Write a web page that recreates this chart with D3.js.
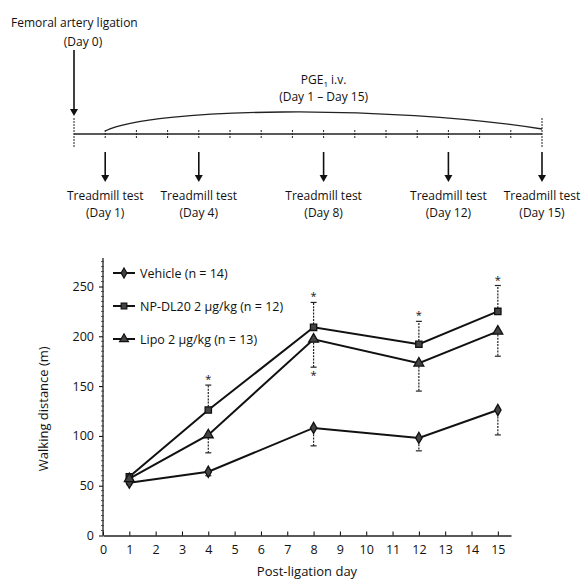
<!DOCTYPE html>
<html>
<head>
<meta charset="utf-8">
<script src="https://cdn.jsdelivr.net/npm/d3@7"></script>
<style>
  body { margin: 0; background: #fff; }
  svg { font-family: "Open Sans", "Noto Sans", sans-serif; }
  text { fill: #111; }
</style>
</head>
<body>
<svg id="chart" width="583" height="580"></svg>
<script>
// ---- data ----
const days = [1, 4, 8, 12, 15];
const vehicle = [53, 64, 108, 98, 126];
const vehicleErr = [2, 4, 18, 13, 25];        // drawn downward
const npDl20 = [59, 126, 209, 192, 225];
const npDl20Err = [3, 25, 25, 23, 26];        // drawn upward
const lipo = [57, 101, 197, 173, 205];
const lipoErr = [2, 18, 28, 28, 25];          // drawn downward
const npStarDays = [4, 8, 12, 15];
const lipoStarDays = [8];

const seriesNames = ["Vehicle (n = 14)", "NP-DL20 2 μg/kg (n = 12)", "Lipo 2 μg/kg (n = 13)"];
const yTicks = [0, 50, 100, 150, 200, 250];
const xTicks = d3.range(0, 16);

// timeline
const testDays = [1, 4, 8, 12, 15];
const timelineTicks = d3.range(0, 16);

const svg = d3.select("#chart");

// ---------------------------
// Timeline (top panel)
// ---------------------------
const tx = d3.scaleLinear().domain([0, 15]).range([74, 542]);
const lineY = 134;
const tl = svg.append("g");

tl.append("line")
  .attr("x1", tx(0)).attr("x2", tx(15))
  .attr("y1", lineY).attr("y2", lineY)
  .attr("stroke", "#222").attr("stroke-width", 1.3);

tl.selectAll(".tt")
  .data(timelineTicks)
  .join("line")
  .attr("x1", d => tx(d)).attr("x2", d => tx(d))
  .attr("y1", d => (d === 0 || d === 15) ? lineY - 16 : lineY - 4)
  .attr("y2", d => (d === 0 || d === 15) ? lineY + 14 : lineY + 4)
  .attr("stroke", "#222").attr("stroke-width", 1)
  .attr("stroke-dasharray", "2,1");

// PGE1 arc
const arcPath = d3.path();
arcPath.moveTo(tx(1), lineY - 3);
arcPath.bezierCurveTo(tx(2.5), lineY - 26, tx(10), lineY - 30, tx(15), lineY - 5);
tl.append("path")
  .attr("d", arcPath.toString())
  .attr("fill", "none").attr("stroke", "#222").attr("stroke-width", 1.3);

const pge = tl.append("text")
  .attr("x", tx(8)).attr("y", 84)
  .attr("text-anchor", "middle").attr("font-size", 12);
pge.append("tspan").text("PGE");
pge.append("tspan").attr("font-size", 8).attr("dy", 3).text("1");
pge.append("tspan").attr("dy", -3).text(" i.v.");
tl.append("text")
  .attr("x", tx(8)).attr("y", 101)
  .attr("text-anchor", "middle").attr("font-size", 12)
  .text("(Day 1 \u2013 Day 15)");

// arrows
function arrow(g, x, y1, y2) {
  g.append("line")
    .attr("x1", x).attr("x2", x).attr("y1", y1).attr("y2", y2 - 6)
    .attr("stroke", "#111").attr("stroke-width", 1.6);
  g.append("path")
    .attr("d", `M${x - 4},${y2 - 7} L${x + 4},${y2 - 7} L${x},${y2} Z`)
    .attr("fill", "#111");
}

tl.append("text")
  .attr("x", 11).attr("y", 27)
  .attr("font-size", 12)
  .text("Femoral artery ligation");
tl.append("text")
  .attr("x", 83).attr("y", 46)
  .attr("text-anchor", "middle").attr("font-size", 12)
  .text("(Day 0)");
arrow(tl, tx(0), 50, 116);

testDays.forEach(d => {
  arrow(tl, tx(d), 152, 182);
  tl.append("text")
    .attr("x", tx(d)).attr("y", 200)
    .attr("text-anchor", "middle").attr("font-size", 12)
    .text("Treadmill test");
  tl.append("text")
    .attr("x", tx(d)).attr("y", 217)
    .attr("text-anchor", "middle").attr("font-size", 12)
    .text(`(Day ${d})`);
});

// ---------------------------
// Line chart (bottom panel)
// ---------------------------
const x = d3.scaleLinear().domain([0, 15.5]).range([103, 511]);
const y = d3.scaleLinear().domain([0, 250]).range([535.5, 286.5]);
const yTop = 258;

const gx = svg.append("g")
  .attr("transform", `translate(0,${y(0)})`)
  .call(d3.axisBottom(x).tickValues(xTicks).tickSize(-4).tickPadding(10).tickSizeOuter(0));
gx.select(".domain").attr("stroke", "#222").attr("stroke-width", 1.3);
gx.selectAll(".tick text").attr("font-size", 12.5).attr("font-family", "Open Sans, sans-serif");

const gy = svg.append("g")
  .attr("transform", `translate(${x(0)},0)`)
  .call(d3.axisLeft(y).tickValues(yTicks).tickSize(4).tickPadding(5).tickSizeOuter(0));
gy.select(".domain").attr("d", `M0,${y(0)}V${yTop}`).attr("stroke", "#222").attr("stroke-width", 1.3);
gy.selectAll(".tick text").attr("font-size", 12.5).attr("font-family", "Open Sans, sans-serif");

// minor y ticks
svg.append("g").selectAll("line")
  .data(d3.range(0, 276, 5).filter(v => v % 50 !== 0))
  .join("line")
  .attr("x1", x(0) - 2).attr("x2", x(0) + 1)
  .attr("y1", d => y(d)).attr("y2", d => y(d))
  .attr("stroke", "#333").attr("stroke-width", 0.8);

svg.append("text")
  .attr("transform", `translate(48,${(y(0) + yTop) / 2 + 12}) rotate(-90)`)
  .attr("text-anchor", "middle").attr("font-size", 13)
  .text("Walking distance (m)");
svg.append("text")
  .attr("x", (x(0) + x(15.5)) / 2).attr("y", 576)
  .attr("text-anchor", "middle").attr("font-size", 13)
  .text("Post-ligation day");

const series = [
  { name: seriesNames[0], values: vehicle, err: vehicleErr, dir: 1, shape: d3.symbolDiamond, size: 36 },
  { name: seriesNames[1], values: npDl20, err: npDl20Err, dir: -1, shape: d3.symbolSquare, size: 40 },
  { name: seriesNames[2], values: lipo, err: lipoErr, dir: 1, shape: d3.symbolTriangle, size: 42 }
];

const line = d3.line().x(d => x(d[0])).y(d => y(d[1]));
const plot = svg.append("g");

series.forEach(s => {
  const pts = days.map((d, i) => [d, s.values[i], s.err[i]]);
  // error bars
  pts.forEach(p => {
    const yEnd = y(p[1] - s.dir * p[2]);
    plot.append("line")
      .attr("x1", x(p[0])).attr("x2", x(p[0]))
      .attr("y1", y(p[1])).attr("y2", yEnd)
      .attr("stroke", "#222").attr("stroke-width", 1.2)
      .attr("stroke-dasharray", "2,1.2");
    plot.append("line")
      .attr("x1", x(p[0]) - 3).attr("x2", x(p[0]) + 3)
      .attr("y1", yEnd).attr("y2", yEnd)
      .attr("stroke", "#222").attr("stroke-width", 1.2);
  });
  plot.append("path")
    .datum(pts)
    .attr("d", line)
    .attr("fill", "none").attr("stroke", "#111").attr("stroke-width", 2);
  plot.selectAll(null)
    .data(pts)
    .join("path")
    .attr("transform", d => `translate(${x(d[0])},${y(d[1])})`)
    .attr("d", d3.symbol(s.shape, s.size))
    .attr("fill", "#444").attr("stroke", "#111").attr("stroke-width", 1.3);
});

// significance stars
npStarDays.forEach(d => {
  const i = days.indexOf(d);
  plot.append("text")
    .attr("x", x(d)).attr("y", y(npDl20[i] + npDl20Err[i]) - 2)
    .attr("text-anchor", "middle").attr("font-size", 11)
    .text("*");
});
lipoStarDays.forEach(d => {
  const i = days.indexOf(d);
  plot.append("text")
    .attr("x", x(d)).attr("y", y(lipo[i] - lipoErr[i]) + 12)
    .attr("text-anchor", "middle").attr("font-size", 11)
    .text("*");
});

// legend
const legendY = [273, 306, 339];
series.forEach((s, i) => {
  const g = svg.append("g").attr("transform", `translate(113,${legendY[i]})`);
  g.append("line").attr("x1", 0).attr("x2", 22)
    .attr("stroke", "#111").attr("stroke-width", 2);
  g.append("path").attr("transform", "translate(11,0)")
    .attr("d", d3.symbol(s.shape, s.size * 0.8))
    .attr("fill", "#444").attr("stroke", "#111").attr("stroke-width", 1.2);
  g.append("text").attr("x", 27).attr("y", 4.5)
    .attr("font-size", 12.5)
    .text(s.name);
});
</script>
</body>
</html>
